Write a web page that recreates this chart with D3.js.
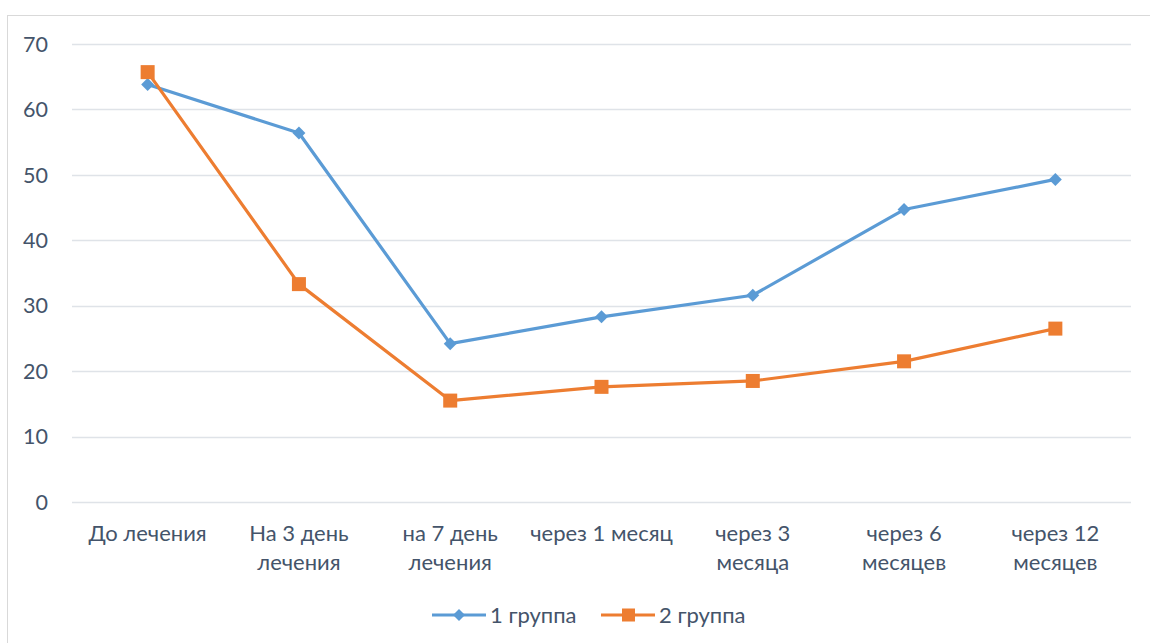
<!DOCTYPE html>
<html><head><meta charset="utf-8">
<script src="https://cdn.jsdelivr.net/npm/d3@7"></script>
<style>body{margin:0;background:#fff}svg{display:block}text{font-family:Lato,"Open Sans",sans-serif;fill:#44546A}</style>
</head><body>
<script>
const categories = [["До лечения"],["На 3 день","лечения"],["на 7 день","лечения"],["через 1 месяц"],["через 3","месяца"],["через 6","месяцев"],["через 12","месяцев"]];
const series1 = [63.8, 56.4, 24.2, 28.3, 31.6, 44.7, 49.3];
const series2 = [65.7, 33.3, 15.5, 17.6, 18.5, 21.5, 26.5];
const seriesNames = ["1 группа", "2 группа"];
const yTicks = [0,10,20,30,40,50,60,70];

(function(){
const W=1150,H=643;
const svg=d3.select("body").append("svg").attr("width",W).attr("height",H);
svg.append("rect").attr("x",7.5).attr("y",15.5).attr("width",1150).attr("height",700).attr("fill","none").attr("stroke","#d9d9d9");
const pL=72,pR=1131,pT=44,pB=502;
const x=d3.scaleBand().domain(d3.range(categories.length)).range([pL,pR]);
const y=d3.scaleLinear().domain([0,70]).range([pB,pT]);

const g=svg.append("g");
g.selectAll("line.grid").data(yTicks).join("line").attr("x1",pL).attr("x2",pR)
 .attr("y1",d=>Math.round(y(d))+0.5).attr("y2",d=>Math.round(y(d))+0.5).attr("stroke","#dfe3e8").attr("stroke-width",1.3);
g.selectAll("text.yt").data(yTicks).join("text").attr("x",48).attr("y",d=>y(d)).attr("dy","0.36em")
 .attr("text-anchor","end").attr("font-size",21.5).text(d=>d);
const xl=g.selectAll("text.xt").data(categories).join("text").attr("text-anchor","middle").attr("font-size",22)
 .attr("transform",(d,i)=>`translate(${x(i)+x.bandwidth()/2},541)`);
xl.selectAll("tspan").data(d=>d).join("tspan").attr("x",0).attr("dy",(d,i)=>i?28.5:0).text(d=>d);

const cx=i=>x(i)+x.bandwidth()/2;
const line=d3.line().x((d,i)=>cx(i)).y(d=>y(d));
const colors=["#5B9BD5","#ED7D31"];
[series1,series2].forEach((s,k)=>{
  g.append("path").datum(s).attr("d",line).attr("fill","none").attr("stroke",colors[k]).attr("stroke-width",3.2).attr("stroke-linejoin","round");
});
g.selectAll("path.m1").data(series1).join("path").attr("d",d3.symbol().type(d3.symbolSquare).size(84))
 .attr("transform",(d,i)=>`translate(${cx(i)},${y(d)}) rotate(45)`).attr("fill",colors[0]);
g.selectAll("rect.m2").data(series2).join("rect").attr("x",(d,i)=>cx(i)-7).attr("y",d=>y(d)-7)
 .attr("width",14).attr("height",14).attr("fill",colors[1]);

const lg=svg.append("g");
const items=[{x:432,c:colors[0],t:seriesNames[0],m:"d"},{x:601,c:colors[1],t:seriesNames[1],m:"s"}];
const ly=615;
items.forEach(it=>{
  lg.append("line").attr("x1",it.x).attr("x2",it.x+54).attr("y1",ly).attr("y2",ly).attr("stroke",it.c).attr("stroke-width",3.2);
  if(it.m==="d") lg.append("path").attr("d",d3.symbol().type(d3.symbolSquare).size(72)()).attr("transform",`translate(${it.x+27},${ly}) rotate(45)`).attr("fill",it.c);
  else lg.append("rect").attr("x",it.x+21).attr("y",ly-6.5).attr("width",13).attr("height",13).attr("fill",it.c);
  lg.append("text").attr("x",it.x+58).attr("y",ly).attr("dy","0.36em").attr("font-size",22).text(it.t);
});
})();
</script>
</body></html>
